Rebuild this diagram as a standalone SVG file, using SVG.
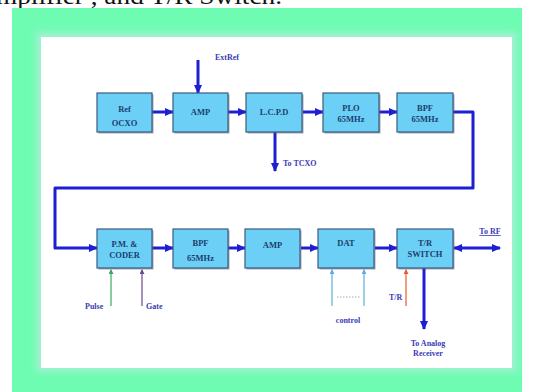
<svg xmlns="http://www.w3.org/2000/svg" width="534" height="392" viewBox="0 0 534 392">
<style>
.box{fill:#6cd0f6;stroke:#3d5a80;stroke-width:1.2}
.shadow{fill:#55607a;opacity:0.55}
.bt{font-family:"Liberation Serif",serif;font-weight:bold;font-size:8.5px;fill:#1c3d6e;text-anchor:middle}
.lbl{font-family:"Liberation Serif",serif;font-weight:bold;font-size:8px;fill:#3a3ab8}
.wire{fill:none;stroke:#1e1ed2;stroke-width:3;stroke-linejoin:round}
.thin{fill:none;stroke-width:1.2}
</style>
<defs>
<marker id="ah" markerUnits="userSpaceOnUse" markerWidth="9" markerHeight="8" refX="8" refY="4" orient="auto">
<path d="M0,0 L9,4 L0,8 Z" fill="#1e1ed2"/>
</marker>
<marker id="ahs" markerUnits="userSpaceOnUse" markerWidth="9" markerHeight="8" refX="1" refY="4" orient="auto">
<path d="M9,0 L0,4 L9,8 Z" fill="#1e1ed2"/>
</marker>
<marker id="sg" markerUnits="userSpaceOnUse" markerWidth="5" markerHeight="5" refX="4" refY="2.5" orient="auto">
<path d="M0,0 L5,2.5 L0,5 Z" fill="#3aa860"/>
</marker>
<marker id="sp" markerUnits="userSpaceOnUse" markerWidth="5" markerHeight="5" refX="4" refY="2.5" orient="auto">
<path d="M0,0 L5,2.5 L0,5 Z" fill="#6a4a90"/>
</marker>
<marker id="sb" markerUnits="userSpaceOnUse" markerWidth="5" markerHeight="5" refX="4" refY="2.5" orient="auto">
<path d="M0,0 L5,2.5 L0,5 Z" fill="#5ab0e0"/>
</marker>
<marker id="sr" markerUnits="userSpaceOnUse" markerWidth="5" markerHeight="5" refX="4" refY="2.5" orient="auto">
<path d="M0,0 L5,2.5 L0,5 Z" fill="#e85a30"/>
</marker>
<filter id="blur" x="-5%" y="-5%" width="110%" height="110%">
<feGaussianBlur stdDeviation="3"/>
</filter>
</defs>
<rect width="534" height="392" fill="#ffffff"/>
<text x="-4" y="4" font-family="Liberation Serif,serif" font-size="24" fill="#111" textLength="286" lengthAdjust="spacingAndGlyphs">mplifier , and  T/R  Switch.</text>
<rect x="12" y="8" width="510" height="384" fill="#6efcb2"/>
<rect x="36" y="32" width="481" height="340" fill="#9ff2cf" filter="url(#blur)"/>
<rect x="41" y="37" width="471" height="331" fill="#ffffff"/>

<g id="connectors">
<line class="wire" x1="152" y1="112" x2="173" y2="112" marker-end="url(#ah)"/>
<line class="wire" x1="228" y1="112" x2="246" y2="112" marker-end="url(#ah)"/>
<line class="wire" x1="303" y1="112" x2="323" y2="112" marker-end="url(#ah)"/>
<line class="wire" x1="379" y1="112" x2="397" y2="112" marker-end="url(#ah)"/>
<line class="wire" x1="198" y1="60" x2="198" y2="93" marker-end="url(#ah)"/>
<line class="wire" x1="275" y1="132" x2="275" y2="171" marker-end="url(#ah)"/>
<path class="wire" d="M453,112 H473 V188 H55 V248 H97" marker-end="url(#ah)"/>
<line class="wire" x1="152" y1="248" x2="173" y2="248" marker-end="url(#ah)"/>
<line class="wire" x1="228" y1="248" x2="245" y2="248" marker-end="url(#ah)"/>
<line class="wire" x1="301" y1="248" x2="318" y2="248" marker-end="url(#ah)"/>
<line class="wire" x1="375" y1="248" x2="397" y2="248" marker-end="url(#ah)"/>
<line class="wire" x1="454" y1="248" x2="500" y2="248" marker-start="url(#ahs)" marker-end="url(#ah)"/>
<line class="wire" x1="424" y1="268" x2="424" y2="329" marker-end="url(#ah)"/>
<line class="thin" stroke="#3aa860" x1="111" y1="306" x2="111" y2="270" marker-end="url(#sg)"/>
<line class="thin" stroke="#6a4a90" x1="142" y1="306" x2="142" y2="270" marker-end="url(#sp)"/>
<line class="thin" stroke="#5ab0e0" x1="332" y1="306" x2="332" y2="270" marker-end="url(#sb)"/>
<line class="thin" stroke="#5ab0e0" x1="364" y1="306" x2="364" y2="270" marker-end="url(#sb)"/>
<line stroke="#8aa0b0" stroke-width="0.8" stroke-dasharray="1.5,1.5" x1="337" y1="297" x2="360" y2="297"/>
<line class="thin" stroke="#e85a30" x1="406" y1="306" x2="406" y2="270" marker-end="url(#sr)"/>
</g>

<g id="ref-ocxo">
<rect class="shadow" x="98.5" y="94.5" width="55" height="39"/>
<rect class="box" x="97" y="93" width="55" height="39"/>
<text class="bt" x="124.5" y="112">Ref</text>
<text class="bt" x="124.5" y="126">OCXO</text>
</g>
<g id="amp1">
<rect class="shadow" x="174.5" y="94.5" width="55" height="39"/>
<rect class="box" x="173" y="93" width="55" height="39"/>
<text class="bt" x="200.5" y="115">AMP</text>
</g>
<g id="lcpd">
<rect class="shadow" x="247.5" y="94.5" width="56" height="39"/>
<rect class="box" x="246" y="93" width="56" height="39"/>
<text class="bt" x="274" y="115">L.C.P.D</text>
</g>
<g id="plo">
<rect class="shadow" x="324.5" y="94.5" width="56" height="39"/>
<rect class="box" x="323" y="93" width="56" height="39"/>
<text class="bt" x="351" y="110.5">PLO</text>
<text class="bt" x="351" y="121.5">65MHz</text>
</g>
<g id="bpf1">
<rect class="shadow" x="398.5" y="94.5" width="56" height="39"/>
<rect class="box" x="397" y="93" width="56" height="39"/>
<text class="bt" x="425" y="110.5">BPF</text>
<text class="bt" x="425" y="121.5">65MHz</text>
</g>

<g id="pm-coder">
<rect class="shadow" x="98.5" y="230.5" width="55" height="39"/>
<rect class="box" x="97" y="229" width="55" height="39"/>
<text class="bt" x="124.5" y="247">P.M. &amp;</text>
<text class="bt" x="124.5" y="257.5">CODER</text>
</g>
<g id="bpf2">
<rect class="shadow" x="174.5" y="230.5" width="55" height="39"/>
<rect class="box" x="173" y="229" width="55" height="39"/>
<text class="bt" x="200.5" y="246">BPF</text>
<text class="bt" x="200.5" y="261">65MHz</text>
</g>
<g id="amp2">
<rect class="shadow" x="246.5" y="230.5" width="55" height="39"/>
<rect class="box" x="245" y="229" width="55" height="39"/>
<text class="bt" x="272.5" y="248">AMP</text>
</g>
<g id="dat">
<rect class="shadow" x="319.5" y="230.5" width="56" height="39"/>
<rect class="box" x="318" y="229" width="56" height="39"/>
<text class="bt" x="346" y="246">DAT</text>
</g>
<g id="tr-switch">
<rect class="shadow" x="398.5" y="230.5" width="56" height="39"/>
<rect class="box" x="397" y="229" width="56" height="39"/>
<text class="bt" x="425" y="245.5">T/R</text>
<text class="bt" x="425" y="256.5">SWITCH</text>
</g>

<g id="labels">
<text class="lbl" x="215" y="60">ExtRef</text>
<text class="lbl" x="283" y="165.5" fill="#4a4a9a">To  TCXO</text>
<text class="lbl" x="85" y="309">Pulse</text>
<text class="lbl" x="146" y="309">Gate</text>
<text class="lbl" x="348" y="323" text-anchor="middle">control</text>
<text class="lbl" x="389" y="300" fill="#333366">T/R</text>
<text class="lbl" x="428" y="345.5" text-anchor="middle">To  Analog</text>
<text class="lbl" x="428" y="355.5" text-anchor="middle">Receiver</text>
<text class="lbl" x="490" y="234" text-anchor="middle" text-decoration="underline">To  RF</text>
</g>
</svg>
